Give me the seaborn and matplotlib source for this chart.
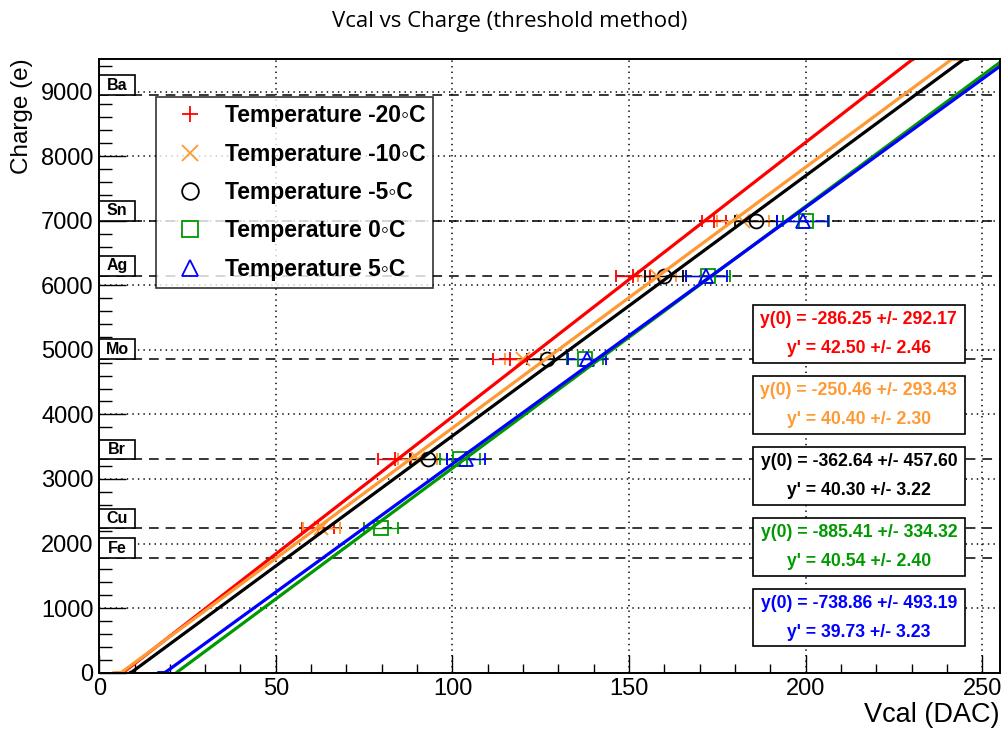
"""Vcal vs charge calibration at several temperatures (threshold method)."""

import matplotlib
matplotlib.use('Agg')
import matplotlib.pyplot as plt
from matplotlib.lines import Line2D
from matplotlib.patches import Rectangle
import numpy as np
import pandas as pd
import seaborn as sns

# X-ray calibration lines, charge in electrons
elements = ['Fe', 'Cu', 'Br', 'Mo', 'Ag', 'Sn', 'Ba']
element_charge = [1776, 2240, 3308, 4860, 6150, 7000, 8950]

temperatures = ['-20', '-10', '-5', '0', '5']
colors = ['#ff0000', '#ff9933', '#000000', '#009900', '#0000ff']
markers = ['+', 'x', 'o', 's', '^']

# measured threshold points, per temperature
elem_m20 = ['Cu', 'Br', 'Mo', 'Ag', 'Sn']
vcal_m20 = [61.9, 83.7, 116.3, 151.1, 174.0]
err_m20 = [4.5, 4.7, 4.8, 4.9, 3.4]

elem_m10 = ['Cu', 'Br', 'Mo', 'Ag', 'Sn']
vcal_m10 = [62.9, 90.2, 120.0, 157.9, 182.2]
err_m10 = [5.3, 5.5, 5.0, 5.4, 7.4]

elem_m5 = ['Br', 'Mo', 'Ag', 'Sn']
vcal_m5 = [93.2, 126.7, 159.9, 185.9]
err_m5 = [5.2, 5.7, 5.4, 5.9]

elem_0 = ['Cu', 'Br', 'Mo', 'Ag', 'Sn']
vcal_0 = [79.8, 102.1, 137.5, 172.3, 200.1]
err_0 = [4.9, 5.6, 5.2, 6.2, 6.4]

elem_5 = ['Br', 'Mo', 'Ag', 'Sn']
vcal_5 = [103.8, 138.1, 171.9, 199.2]
err_5 = [5.4, 5.4, 5.7, 7.2]

# linear fit results: charge = y(0) + y' * vcal
fit_y0 = [-286.25, -250.46, -362.64, -885.41, -738.86]
fit_y0_err = [292.17, 293.43, 457.60, 334.32, 493.19]
fit_slope = [42.50, 40.40, 40.30, 40.54, 39.73]
fit_slope_err = [2.46, 2.30, 3.22, 2.40, 3.23]
fit_lo = [5.0, 4.0, 8.7, 21.9, 16.7]
fit_hi = [230.5, 243.6, 245.9, 255.0, 255.0]

X_MAX = 255
Y_MAX = 9500


def build_points() -> pd.DataFrame:
    """Collect the measured points in one long table."""
    charge = dict(zip(elements, element_charge))
    groups = [
        (elem_m20, vcal_m20, err_m20),
        (elem_m10, vcal_m10, err_m10),
        (elem_m5, vcal_m5, err_m5),
        (elem_0, vcal_0, err_0),
        (elem_5, vcal_5, err_5),
    ]
    rows = []
    for temp, (elems, vcal, err) in zip(temperatures, groups):
        for e, v, s in zip(elems, vcal, err):
            rows.append({'temp': temp, 'element': e, 'charge': charge[e],
                         'vcal': v, 'err': s})
    return pd.DataFrame(rows)


def _main():
    sns.set_theme(style='white')
    plt.rcParams['font.family'] = ['Liberation Sans', 'DejaVu Sans']
    plt.rcParams['lines.scale_dashes'] = False
    plt.rcParams['text.color'] = 'black'
    plt.rcParams['axes.labelcolor'] = 'black'

    fig = plt.figure(figsize=(10.03, 7.31), dpi=100)
    ax = fig.add_axes([0.0989, 0.0798, 0.8981, 0.8391])
    points = build_points()

    # element reference lines and their labels
    for name, q in zip(elements, element_charge):
        ax.axhline(q, color='black', lw=1.1, ls=(0, (7, 5)), zorder=1.5)
        ax.add_patch(Rectangle((0, q), 10.1, 302, facecolor='white',
                               edgecolor='black', lw=1.2, zorder=3))
        ax.text(5.05, q + 151, name, ha='center', va='center',
                fontsize=11.5, weight='bold', zorder=4)

    # measured points with horizontal errors
    for temp, c, m in zip(temperatures, colors, markers):
        sub = points[points['temp'] == temp]
        ax.errorbar(sub['vcal'], sub['charge'], xerr=sub['err'], fmt=m,
                    color=c, ecolor=c, elinewidth=1, capsize=4.3,
                    capthick=1, markersize=10, markerfacecolor='none',
                    markeredgewidth=1.3, zorder=4)

    # fitted lines, clipped to the frame like ROOT does
    for i, c in enumerate(colors):
        xs = np.linspace(fit_lo[i], fit_hi[i], 400)
        ys = np.clip(fit_y0[i] + fit_slope[i] * xs, 0, Y_MAX)
        sns.lineplot(x=xs, y=ys, color=c, lw=2.3, ax=ax, sort=False,
                     estimator=None, zorder=5)

    ax.set_xlim(0, X_MAX)
    ax.set_ylim(0, Y_MAX)
    ax.set_xticks(np.arange(0, 251, 50))
    ax.set_xticks(np.arange(0, 256, 10), minor=True)
    ax.set_yticks(np.arange(0, 9001, 1000))
    ax.set_yticks(np.arange(0, 9501, 200), minor=True)
    ax.tick_params(which='both', direction='in', colors='black',
                   top=False, right=False, left=True, bottom=True,
                   labelsize=17, width=1)
    ax.tick_params(axis='y', which='major', length=19.4, pad=4)
    ax.tick_params(axis='y', which='minor', length=9.7)
    ax.tick_params(axis='x', which='major', length=13, pad=4)
    ax.tick_params(axis='x', which='minor', length=6.5)
    ax.grid(which='major', color='black', lw=1.1, ls=(0, (1, 3)))
    ax.set_axisbelow(True)
    for sp in ax.spines.values():
        sp.set_color('black')
        sp.set_linewidth(1.4)
        sp.set_zorder(6)
    ax.set_xlabel('')
    ax.set_ylabel('')

    # legend
    handles = [Line2D([], [], ls='none', marker=m, color=c,
                      markerfacecolor='none', markersize=12,
                      markeredgewidth=1.3)
               for c, m in zip(colors, markers)]
    labels = [f'Temperature {t}\u25e6C' for t in temperatures]
    leg = ax.legend(handles, labels, loc='upper left',
                    bbox_to_anchor=(0.063, 0.9386), borderaxespad=0,
                    frameon=True, fancybox=False, shadow=False,
                    prop={'size': 16.5, 'weight': 'bold'},
                    handletextpad=0.39, labelspacing=0.67,
                    borderpad=0.32, handlelength=2.3)
    leg.get_frame().set_edgecolor('black')
    leg.get_frame().set_linewidth(1.2)
    leg.set_zorder(7)

    # fit result boxes
    for i, c in enumerate(colors):
        top = 0.5995 - i * 0.1157
        h = 0.094
        ax.add_patch(Rectangle((0.7255, top - h), 0.2356, h,
                               transform=ax.transAxes, facecolor='white',
                               edgecolor='black', lw=1.2, zorder=7))
        ax.text(0.8433, top - 0.25 * h,
                f'y(0) = {fit_y0[i]:.2f} +/- {fit_y0_err[i]:.2f}',
                transform=ax.transAxes, ha='center', va='center',
                color=c, fontsize=12.7, weight='bold', zorder=8)
        ax.text(0.8433, top - 0.76 * h,
                f"y' = {fit_slope[i]:.2f} +/- {fit_slope_err[i]:.2f}",
                transform=ax.transAxes, ha='center', va='center',
                color=c, fontsize=12.7, weight='bold', zorder=8)

    fig.text(0.508, 1 - 22 / 731, 'Vcal vs Charge (threshold method)',
             ha='center', va='center', fontsize=16, family='Open Sans')
    fig.text(1000 / 1003, 1 - 715 / 731, 'Vcal (DAC)', ha='right',
             va='center', fontsize=19.5)
    fig.text(22 / 1003, 1 - 174 / 731, 'Charge (e)', ha='center',
             va='bottom', rotation=90, fontsize=17.5)

    fig.savefig('out.png', dpi=100)
    plt.close(fig)


if __name__ == '__main__':
    _main()
